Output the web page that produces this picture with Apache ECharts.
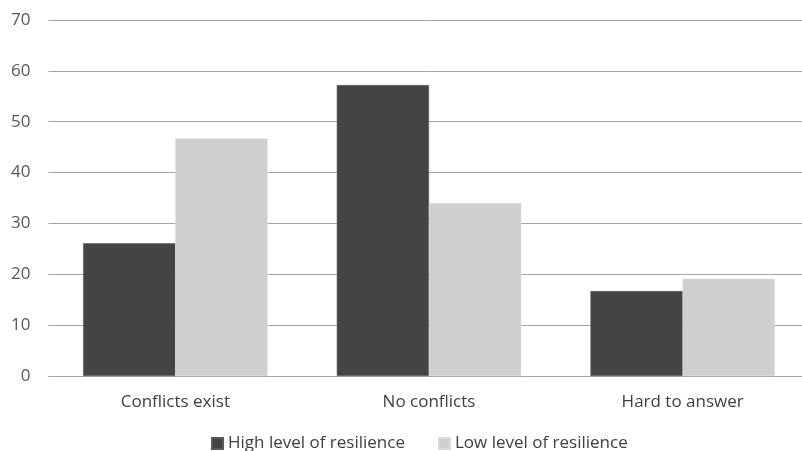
<!DOCTYPE html>
<html>
<head>
<meta charset="utf-8">
<script src="https://cdn.jsdelivr.net/npm/echarts@6/dist/echarts.min.js"></script>
<style>
  html, body { margin: 0; padding: 0; background: #ffffff; }
  #chart { width: 802px; height: 451px; }
</style>
</head>
<body>
<div id="chart"></div>
<script>
// Categories and values (%)
const categories = ['Conflicts exist', 'No conflicts', 'Hard to answer'];
const highResilience = [26.1, 57.2, 16.7];
const lowResilience = [46.7, 34.0, 19.1];
const seriesNames = ['High level of resilience', 'Low level of resilience'];

const chart = echarts.init(document.getElementById('chart'));
const font = "'Open Sans', 'Noto Sans', sans-serif";

chart.setOption({
  animation: false,
  textStyle: { fontFamily: font },
  grid: {
    left: 48.5, top: 20, width: 761, height: 356,
    containLabel: false,
    outerBoundsMode: 'none'
  },
  legend: {
    top: 435,
    left: 211,
    padding: 0,
    itemWidth: 11,
    itemHeight: 11,
    itemGap: 33,
    icon: 'rect',
    textStyle: { fontFamily: font, fontSize: 17, color: '#404040' },
    data: seriesNames
  },
  xAxis: {
    type: 'category',
    data: categories,
    axisLine: { show: true, lineStyle: { color: '#a6a6a6', width: 1 } },
    axisTick: { show: false },
    axisLabel: { color: '#404040', fontSize: 17, margin: 18, fontFamily: font }
  },
  yAxis: {
    type: 'value',
    min: 0,
    max: 70,
    interval: 10,
    axisLine: { show: false },
    axisTick: { show: false },
    axisLabel: { color: '#595959', fontSize: 17, margin: 18, fontFamily: font },
    splitLine: { lineStyle: { color: '#a6a6a6', width: 1 } }
  },
  series: [
    {
      name: seriesNames[0],
      type: 'bar',
      data: highResilience,
      barGap: '0%',
      barCategoryGap: '27.3%',
      itemStyle: { color: '#444444', borderColor: '#595959', borderWidth: 0.5 }
    },
    {
      name: seriesNames[1],
      type: 'bar',
      data: lowResilience,
      barGap: '0%',
      barCategoryGap: '27.3%',
      itemStyle: { color: '#cfcfcf', borderColor: '#d9d9d9', borderWidth: 0.5 }
    }
  ]
});
</script>
</body>
</html>
